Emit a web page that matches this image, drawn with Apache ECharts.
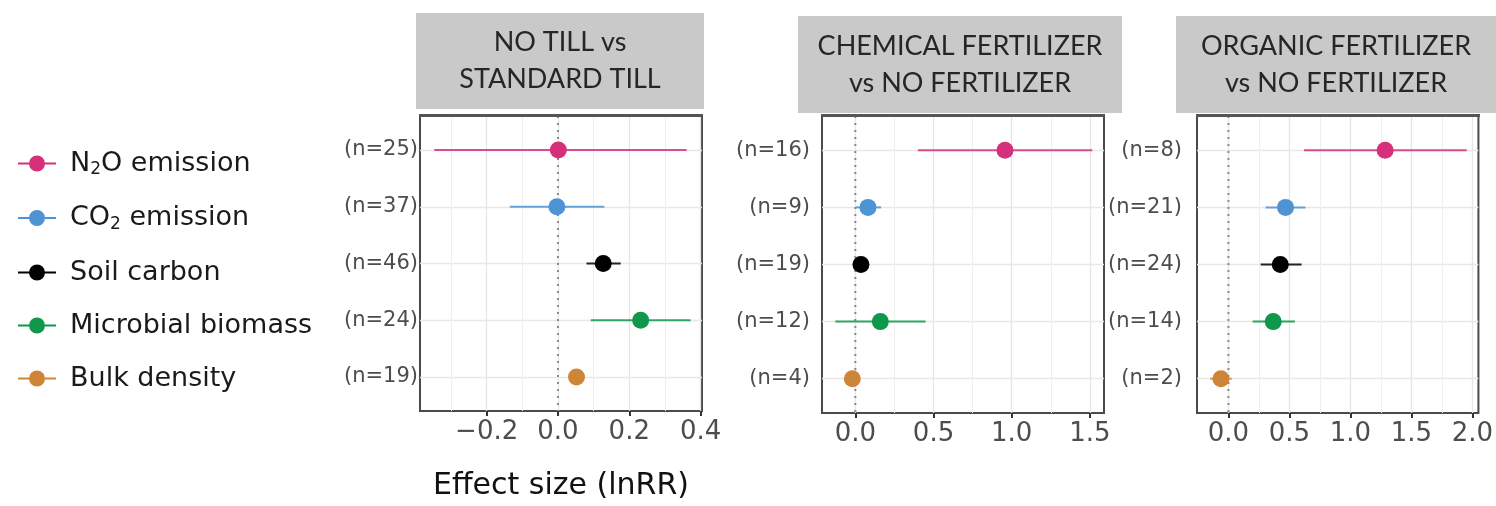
<!DOCTYPE html>
<html>
<head>
<meta charset="utf-8">
<script src="https://cdn.jsdelivr.net/npm/echarts@6/dist/echarts.min.js"></script>
<style>
  html, body { margin: 0; padding: 0; background: #ffffff; }
  #chart { width: 1496px; height: 506px; }
</style>
</head>
<body>
<div id="chart"></div>
<script>
// ---------------- DATA ----------------
const categories = ['N2O emission', 'CO2 emission', 'Soil carbon', 'Microbial biomass', 'Bulk density'];
const colors = ['#d6307a', '#4e93d3', '#000000', '#0f984c', '#cf8538'];

const panelTitles = ['NO TILL vs\nSTANDARD TILL', 'CHEMICAL FERTILIZER\nvs NO FERTILIZER', 'ORGANIC FERTILIZER\nvs NO FERTILIZER'];

const nLabels1 = ['(n=25)', '(n=37)', '(n=46)', '(n=24)', '(n=19)'];
const nLabels2 = ['(n=16)', '(n=9)', '(n=19)', '(n=12)', '(n=4)'];
const nLabels3 = ['(n=8)', '(n=21)', '(n=24)', '(n=14)', '(n=2)'];

// effect size (lnRR) estimates and confidence limits
const est1 = [0.001, -0.003, 0.127, 0.232, 0.052];
const lo1  = [-0.347, -0.135, 0.080, 0.092, 0.040];
const hi1  = [0.361, 0.130, 0.176, 0.372, 0.064];

const est2 = [0.957, 0.081, 0.036, 0.160, -0.019];
const lo2  = [0.400, 0.004, 0.005, -0.128, -0.040];
const hi2  = [1.515, 0.165, 0.075, 0.449, 0.000];

const est3 = [1.285, 0.468, 0.425, 0.367, -0.062];
const lo3  = [0.620, 0.305, 0.264, 0.199, -0.150];
const hi3  = [1.954, 0.632, 0.600, 0.545, 0.027];

// axis ranges and tick values
const xMin = [-0.387, -0.213, -0.258];
const xMax = [0.404, 1.590, 2.050];
const majorTicks1 = [-0.2, 0.0, 0.2, 0.4];
const majorTicks2 = [0.0, 0.5, 1.0, 1.5];
const majorTicks3 = [0.0, 0.5, 1.0, 1.5, 2.0];
const minorTicks1 = [-0.3, -0.1, 0.1, 0.3];
const minorTicks2 = [0.25, 0.75, 1.25];
const minorTicks3 = [0.25, 0.75, 1.25, 1.75];
const rowPositions = [1, 2, 3, 4, 5];
const refValue = 0;
const xTitle = 'Effect size (lnRR)';

// ---------------- LAYOUT ----------------
const panels = [
  { nLabels: nLabels1, est: est1, lo: lo1, hi: hi1, major: majorTicks1, minor: minorTicks1,
    grid: { left: 420, top: 116, width: 282, height: 297 }, labelMargin: 2,
    header: { x: 416, y: 13, w: 288, h: 96 } },
  { nLabels: nLabels2, est: est2, lo: lo2, hi: hi2, major: majorTicks2, minor: minorTicks2,
    grid: { left: 822, top: 116, width: 282, height: 297 }, labelMargin: 12,
    header: { x: 798, y: 16, w: 324, h: 97 } },
  { nLabels: nLabels3, est: est3, lo: lo3, hi: hi3, major: majorTicks3, minor: minorTicks3,
    grid: { left: 1197, top: 116, width: 282, height: 297 }, labelMargin: 15,
    header: { x: 1176, y: 16, w: 320, h: 97 } }
];

const FONT = '"DejaVu Sans", "Liberation Sans", Arial, sans-serif';

function fmtTick(v) {
  const s = Math.abs(v).toFixed(1);
  return v < -1e-9 ? '\u2212' + s : s;
}

const grids = [], xAxes = [], yAxes = [], series = [], graphics = [];

panels.forEach(function (p, pi) {
  grids.push(Object.assign({ show: true, borderColor: '#4a4a4a', borderWidth: 2, backgroundColor: '#ffffff' }, p.grid));

  // major x axis
  xAxes.push({
    type: 'value', gridIndex: pi, min: xMin[pi], max: xMax[pi], position: 'bottom',
    axisLine: { show: false },
    axisTick: { show: true, length: 5, customValues: p.major, lineStyle: { color: '#333333', width: 2 } },
    axisLabel: { show: true, customValues: p.major, formatter: fmtTick, fontSize: 26, fontFamily: FONT, color: '#4d4d4d', margin: 8 },
    splitLine: { show: true, lineStyle: { color: '#e6e6e6', width: 1.3 } },
    name: pi === 0 ? xTitle : '',
    nameLocation: 'middle', nameGap: 60,
    nameTextStyle: { fontSize: 30, fontFamily: FONT, color: '#111111' }
  });
  // minor grid lines axis
  xAxes.push({
    type: 'value', gridIndex: pi, min: xMin[pi], max: xMax[pi], position: 'top',
    axisLine: { show: false },
    axisTick: { show: false, customValues: p.minor },
    axisLabel: { show: false, customValues: p.minor },
    splitLine: { show: true, lineStyle: { color: '#efefef', width: 1 } }
  });

  yAxes.push({
    type: 'value', gridIndex: pi, min: 0.4, max: 5.6, inverse: true,
    axisLine: { show: false },
    axisTick: { show: false, customValues: rowPositions },
    axisLabel: {
      show: true, customValues: rowPositions, margin: p.labelMargin,
      fontSize: 21, fontFamily: FONT, color: '#4d4d4d',
      formatter: (function (labels) { return function (v) { return labels[Math.round(v) - 1] || ''; }; })(p.nLabels)
    },
    splitLine: { show: true, lineStyle: { color: '#e8e8e8', width: 1.3 } }
  });

  // zero reference dotted line
  series.push({
    type: 'line', name: 'ref' + pi, xAxisIndex: pi * 2, yAxisIndex: pi,
    data: [[refValue, 0.4], [refValue, 5.6]], symbol: 'none', silent: true, z: 2,
    lineStyle: { color: '#8a8a8a', width: 2, type: [2, 5] }
  });

  categories.forEach(function (cat, ci) {
    series.push({
      type: 'custom', name: cat, xAxisIndex: pi * 2, yAxisIndex: pi, z: 3,
      itemStyle: { color: colors[ci] },
      encode: { x: [0, 1, 2], y: 3 },
      data: [[p.est[ci], p.lo[ci], p.hi[ci], rowPositions[ci]]],
      renderItem: function (params, api) {
        const y = api.value(3);
        const a = api.coord([api.value(1), y]);
        const b = api.coord([api.value(2), y]);
        const c = api.coord([api.value(0), y]);
        const col = api.visual('color');
        return {
          type: 'group', children: [
            { type: 'line', shape: { x1: a[0], y1: a[1], x2: b[0], y2: b[1] }, style: { stroke: col, lineWidth: 2, opacity: 0.85 } },
            { type: 'circle', shape: { cx: c[0], cy: c[1], r: 8.5 }, style: { fill: col } }
          ]
        };
      }
    });
  });

  // header strip
  const h = p.header;
  graphics.push({ type: 'rect', left: h.x, top: h.y, shape: { width: h.w, height: h.h }, style: { fill: '#c9c9c9' }, z: 1 });
  graphics.push({
    type: 'text', x: h.x + h.w / 2, y: h.y + h.h / 2, z: 2,
    style: { text: panelTitles[pi], align: 'center', verticalAlign: 'middle', fontSize: 27, fontFamily: 'Lato, "Open Sans", sans-serif', lineHeight: 37, fill: '#262626' }
  });
  // darker top edge of the panel frame
  graphics.push({ type: 'rect', left: p.grid.left - 1, top: p.grid.top - 2, shape: { width: p.grid.width + 2, height: 3 }, style: { fill: '#555555' }, z: 5 });
});

const legendRich = {
  a: { fontSize: 27, fontFamily: FONT, color: '#1a1a1a', lineHeight: 30 },
  s: { fontSize: 17, fontFamily: FONT, color: '#1a1a1a', lineHeight: 17, verticalAlign: 'bottom' }
};
function legendFormatter(name) {
  if (name === 'N2O emission') return '{a|N}{s|2}{a|O emission}';
  if (name === 'CO2 emission') return '{a|CO}{s|2}{a| emission}';
  return '{a|' + name + '}';
}

const option = {
  animation: false,
  backgroundColor: '#ffffff',
  grid: grids,
  xAxis: xAxes,
  yAxis: yAxes,
  legend: {
    data: categories, orient: 'vertical', left: 13, top: 145,
    itemWidth: 38, itemHeight: 16, itemGap: 26,
    icon: 'path://M0,7.1 H38 V8.9 H0 Z M11,8 A8,8 0 1,1 27,8 A8,8 0 1,1 11,8 Z',
    formatter: legendFormatter,
    textStyle: { rich: legendRich, padding: [0, 0, 0, 9] },
    selectedMode: false
  },
  graphic: graphics,
  series: series
};

const chart = echarts.init(document.getElementById('chart'), null, { renderer: 'canvas' });
chart.setOption(option);
</script>
</body>
</html>
